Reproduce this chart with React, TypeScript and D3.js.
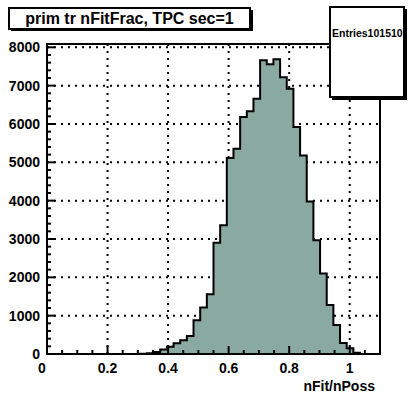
import React from 'react';
import { scaleLinear, line, area } from 'd3';

// histogram contents, 50 bins over [0, 1.1]
const binCounts = [
    0, 0, 0, 0, 0, 0, 0, 0, 0, 0,
    0, 0, 0, 0, 5, 20, 55, 120, 190, 280,
    360, 470, 880, 1215, 1560, 2900, 3360, 5110, 5355, 6180,
    6330, 6660, 7660, 7560, 7690, 7220, 6920, 5920, 5180, 3975,
    2970, 2100, 1275, 755, 290, 150, 30, 0, 0, 0
];
const xMin = 0;
const xMax = 1.1;
const yMax = 8086;
const xTicks = [0, 0.2, 0.4, 0.6, 0.8, 1];
const yTicks = [0, 1000, 2000, 3000, 4000, 5000, 6000, 7000, 8000];
const titleText = 'prim tr nFitFrac, TPC sec=1';
const statsText = 'Entries';
const entries = 101510;
const xTitle = 'nFit/nPoss';

const App = () => {
    const W = 412, H = 395;
    const margin = { top: 44, right: 32, bottom: 41, left: 47 };
    const font = 'Liberation Sans, Arial, Helvetica, sans-serif';

    const x = scaleLinear().domain([xMin, xMax]).range([margin.left, W - margin.right]);
    const y = scaleLinear().domain([0, yMax]).range([H - margin.bottom, margin.top]);

    const bw = (xMax - xMin) / binCounts.length;
    const pts: Array<[number, number]> = [];
    binCounts.forEach((c, i) => {
        pts.push([xMin + i * bw, c]);
        pts.push([xMin + (i + 1) * bw, c]);
    });
    const outline = line<[number, number]>().x(d => x(d[0])).y(d => y(d[1]));
    const fill = area<[number, number]>().x(d => x(d[0])).y0(y(0)).y1(d => y(d[1]));

    const x0 = x(xMin), x1 = x(xMax), y0 = y(0), y1 = y(yMax);

    // minor ticks
    const xMinor: number[] = [];
    for (let v = 0; v <= xMax + 1e-9; v += 0.05) xMinor.push(v);
    const yMinor: number[] = [];
    for (let v = 0; v <= yMax; v += 200) yMinor.push(v);

    return (
        <div style={{ position: 'absolute', left: 0, top: 0 }}>
            <svg width={W} height={H} style={{ display: 'block', background: 'white' }}>
                {/* grid */}
                <g stroke="black" strokeWidth={2} strokeDasharray="2,5">
                    {xTicks.filter(v => v > 0).map(v =>
                        <line key={'gx' + v} x1={x(v)} x2={x(v)} y1={y0} y2={y1} />
                    )}
                    {yTicks.filter(v => v > 0).map(v =>
                        <line key={'gy' + v} x1={x0} x2={x1} y1={y(v)} y2={y(v)} />
                    )}
                </g>

                <path d={fill(pts) || ''} fill="#8aa9a0" />
                <path d={outline(pts) || ''} fill="none" stroke="black" strokeWidth={2} />

                {/* frame */}
                <rect x={x0} y={y1} width={x1 - x0} height={y0 - y1} fill="none" stroke="black" strokeWidth={2} />

                {/* ticks */}
                <g stroke="black" strokeWidth={2}>
                    {xMinor.map((v, i) =>
                        <line key={'tx' + i} x1={x(v)} x2={x(v)} y1={y0} y2={y0 - (i % 4 == 0 ? 8 : 4)} />
                    )}
                    {yMinor.map((v, i) =>
                        <line key={'ty' + i} x1={x0} x2={x0 + (i % 5 == 0 ? 8 : 4)} y1={y(v)} y2={y(v)} />
                    )}
                </g>

                {/* labels */}
                <g fontFamily={font} fontWeight="bold" fontSize={14} fill="black">
                    {yTicks.map(v =>
                        <text key={'ly' + v} x={x0 - 7} y={y(v) + 5} textAnchor="end">{v}</text>
                    )}
                    {xTicks.map(v =>
                        <text key={'lx' + v} x={v == 0 ? x(v) - 5 : x(v)} y={y0 + 19} textAnchor="middle">{v}</text>
                    )}
                    <text x={x1 - 5} y={H - 4} textAnchor="end">{xTitle}</text>
                </g>

                {/* title box */}
                <rect x={11} y={10} width={242} height={21} fill="black" />
                <rect x={9} y={8} width={241} height={21} fill="white" stroke="black" strokeWidth={2} />
                <text x={129.5} y={24} textAnchor="middle" fontFamily={font} fontWeight="bold" fontSize={16}>{titleText}</text>

                {/* stats box */}
                <rect x={332} y={9} width={75} height={91} fill="black" />
                <rect x={330} y={7} width={74} height={90} fill="white" stroke="black" strokeWidth={2} />
                <text x={332} y={37} fontFamily={font} fontWeight="bold" fontSize={10.5}>{statsText}{entries}</text>
            </svg>
        </div>
    );
};

export default App;
